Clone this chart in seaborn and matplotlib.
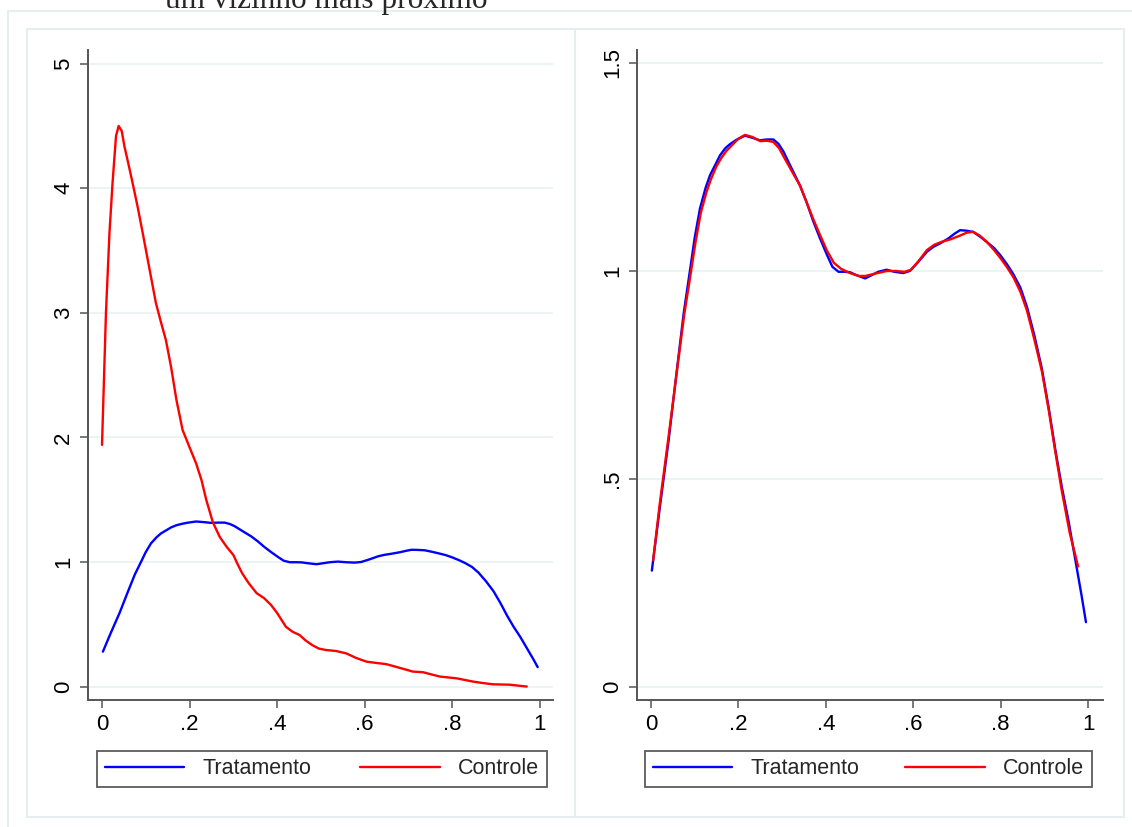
import pandas as pd
import seaborn as sns
import matplotlib.pyplot as plt
from matplotlib.patches import Rectangle

# densidade de kernel - antes do pareamento (painel esquerdo)
trat_x = [0.002, 0.02, 0.04, 0.059, 0.075, 0.089, 0.10, 0.112, 0.125, 0.135, 0.147, 0.158,
          0.17, 0.181, 0.195, 0.215, 0.232, 0.249, 0.265, 0.28, 0.292, 0.303, 0.32, 0.341,
          0.356, 0.371, 0.386, 0.402, 0.415, 0.429, 0.442, 0.455, 0.47, 0.49, 0.505, 0.52,
          0.539, 0.557, 0.577, 0.592, 0.61, 0.631, 0.646, 0.661, 0.68, 0.695, 0.707, 0.72,
          0.737, 0.752, 0.768, 0.785, 0.799, 0.815, 0.829, 0.845, 0.86, 0.877, 0.894, 0.91,
          0.925, 0.94, 0.955, 0.97, 0.985, 0.995]
trat_y = [0.28, 0.43, 0.59, 0.76, 0.90, 1.0, 1.08, 1.15, 1.20, 1.23, 1.255, 1.278,
          1.295, 1.305, 1.315, 1.325, 1.32, 1.314, 1.316, 1.316, 1.305, 1.287, 1.25, 1.205,
          1.165, 1.12, 1.08, 1.04, 1.01, 0.998, 0.998, 0.997, 0.99, 0.982, 0.99, 0.998,
          1.003, 0.998, 0.995, 1.0, 1.02, 1.046, 1.058, 1.066, 1.078, 1.09, 1.098, 1.097,
          1.094, 1.083, 1.07, 1.055, 1.038, 1.015, 0.992, 0.96, 0.914, 0.845, 0.766, 0.67,
          0.57, 0.48, 0.40, 0.31, 0.22, 0.156]

ctrl_x = [0.0, 0.009, 0.017, 0.024, 0.032, 0.038, 0.045, 0.051, 0.06, 0.07, 0.082, 0.093,
          0.108, 0.123, 0.135, 0.146, 0.158, 0.17, 0.184, 0.2, 0.215, 0.227, 0.238, 0.253,
          0.269, 0.285, 0.30, 0.31, 0.32, 0.335, 0.353, 0.37, 0.386, 0.40, 0.42, 0.435,
          0.451, 0.465, 0.48, 0.495, 0.512, 0.535, 0.558, 0.58, 0.604, 0.625, 0.649, 0.68,
          0.71, 0.733, 0.755, 0.772, 0.81, 0.847, 0.87, 0.893, 0.93, 0.97]
ctrl_y = [1.94, 3.0, 3.64, 4.04, 4.42, 4.50, 4.46, 4.34, 4.20, 4.04, 3.84, 3.64,
          3.36, 3.08, 2.92, 2.78, 2.56, 2.30, 2.06, 1.92, 1.79, 1.66, 1.50, 1.32,
          1.20, 1.12, 1.056, 0.98, 0.91, 0.83, 0.75, 0.71, 0.655, 0.59, 0.48, 0.44,
          0.414, 0.37, 0.333, 0.305, 0.293, 0.285, 0.266, 0.23, 0.20, 0.19, 0.18, 0.15,
          0.12, 0.115, 0.095, 0.08, 0.066, 0.04, 0.028, 0.018, 0.015, 0.0]

# depois do pareamento (painel direito) - controle pareado
ctrl_par_x = [0.005, 0.02, 0.04, 0.06, 0.076, 0.091, 0.102, 0.114, 0.127, 0.137, 0.149, 0.16,
              0.172, 0.185, 0.2, 0.215, 0.232, 0.25, 0.265, 0.28, 0.293, 0.306, 0.322, 0.341,
              0.356, 0.371, 0.386, 0.402, 0.418, 0.435, 0.455, 0.475, 0.49, 0.51, 0.54, 0.56,
              0.58, 0.595, 0.613, 0.631, 0.648, 0.665, 0.685, 0.707, 0.722, 0.737, 0.752, 0.768,
              0.785, 0.80, 0.815, 0.829, 0.845, 0.86, 0.877, 0.894, 0.91, 0.925, 0.94, 0.958,
              0.977]
ctrl_par_y = [0.305, 0.44, 0.60, 0.765, 0.895, 0.995, 1.07, 1.14, 1.19, 1.22, 1.25, 1.27,
              1.288, 1.302, 1.318, 1.327, 1.322, 1.312, 1.313, 1.31, 1.295, 1.27, 1.24, 1.205,
              1.165, 1.125, 1.088, 1.05, 1.02, 1.005, 0.995, 0.988, 0.988, 0.993, 1.0, 1.0,
              0.998, 1.003, 1.025, 1.05, 1.063, 1.07, 1.076, 1.085, 1.092, 1.094, 1.085, 1.07,
              1.05, 1.03, 1.008, 0.985, 0.95, 0.905, 0.835, 0.76, 0.665, 0.565, 0.47, 0.37,
              0.29]

xticks = [0, 0.2, 0.4, 0.6, 0.8, 1]
xtick_labels = ['0', '.2', '.4', '.6', '.8', '1']
yticks_esq = [0, 1, 2, 3, 4, 5]
ytick_labels_esq = ['0', '1', '2', '3', '4', '5']
yticks_dir = [0, 0.5, 1, 1.5]
ytick_labels_dir = ['0', '.5', '1', '1.5']
grupos = ['Tratamento', 'Controle']
cores = {'Tratamento': 'blue', 'Controle': 'red'}

df_esq = pd.concat([
    pd.DataFrame({'x': trat_x, 'y': trat_y, 'grupo': 'Tratamento'}),
    pd.DataFrame({'x': ctrl_x, 'y': ctrl_y, 'grupo': 'Controle'}),
])
df_dir = pd.concat([
    pd.DataFrame({'x': trat_x, 'y': trat_y, 'grupo': 'Tratamento'}),
    pd.DataFrame({'x': ctrl_par_x, 'y': ctrl_par_y, 'grupo': 'Controle'}),
])

sns.set_style('white')
plt.rcParams['font.family'] = ['Liberation Sans', 'DejaVu Sans']

W, H = 1132, 827
fig = plt.figure(figsize=(W / 100, H / 100), dpi=100)

borda = '#e6eff0'
# moldura externa e molduras dos paineis (estilo Stata)
fig.add_artist(Rectangle((8 / W, -0.1), 1.2, 1 - 11 / H + 0.1, transform=fig.transFigure,
                         fill=False, ec=borda, lw=1.5))
for x0, x1 in [(27, 575), (575, 1124)]:
    fig.add_artist(Rectangle((x0 / W, 1 - 817 / H), (x1 - x0) / W, (817 - 29) / H,
                             transform=fig.transFigure, fill=False, ec=borda, lw=1.5))

# titulo cortado no topo, como na imagem original
fig.text(326 / W, 1 - 8 / H, 'um vizinho mais próximo', ha='center', va='baseline',
         family=['Liberation Serif', 'DejaVu Serif'], fontsize=22.5)

paineis = [
    (df_esq, [88, 553], (-0.032, 1.03), (-0.108, 5.11), yticks_esq, ytick_labels_esq, [97, 547]),
    (df_dir, [637, 1103], (-0.032, 1.034), (-0.031, 1.531), yticks_dir, ytick_labels_dir, [645, 1092]),
]

for df, (px0, px1), xlim, ylim, yt, ytl, (lx0, lx1) in paineis:
    ax = fig.add_axes([px0 / W, 1 - 700 / H, (px1 - px0) / W, 650 / H])
    sns.lineplot(data=df, x='x', y='y', hue='grupo', hue_order=grupos, palette=cores,
                 lw=1.7, ax=ax)
    ax.set_xlim(*xlim)
    ax.set_ylim(*ylim)
    ax.set_xticks(xticks)
    ax.set_xticklabels(xtick_labels)
    ax.set_yticks(yt)
    ax.set_yticklabels(ytl, rotation=90, va='center')
    ax.set_xlabel('')
    ax.set_ylabel('')
    ax.yaxis.grid(True, color='#eaf2f3', lw=1.3)
    ax.set_axisbelow(True)
    for s in ['top', 'right']:
        ax.spines[s].set_visible(False)
    for s in ['left', 'bottom']:
        ax.spines[s].set_color('#555555')
        ax.spines[s].set_linewidth(1.4)
    ax.tick_params(axis='both', direction='out', length=6, width=1.1, color='#555555',
                   labelsize=16, labelcolor='black', pad=4, left=True, bottom=True)

    handles, labels = ax.get_legend_handles_labels()
    leg = ax.legend(handles=handles, labels=labels, ncol=2, mode='expand', loc='center',
                    bbox_to_anchor=(lx0 / W, 1 - 789 / H, (lx1 - lx0) / W, 40 / H),
                    bbox_transform=fig.transFigure, fontsize=15.5, frameon=True,
                    fancybox=False, edgecolor='#333333', handlelength=3.7,
                    handletextpad=0.85, borderaxespad=0, borderpad=0.35)
    leg.get_frame().set_linewidth(1.3)

fig.savefig('out.png', dpi=100)
